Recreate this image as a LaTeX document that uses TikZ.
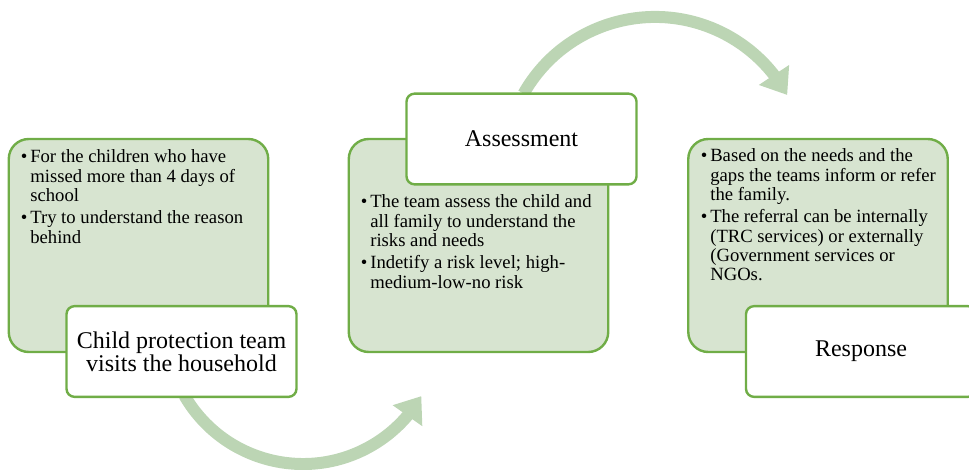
\documentclass[tikz,border=0pt]{standalone}
\usepackage{fontspec}
\setmainfont{Liberation Serif}
\usetikzlibrary{arrows.meta,bending}
\definecolor{gfill}{HTML}{D7E4D0}
\definecolor{gline}{HTML}{70AD47}
\definecolor{arrowgreen}{HTML}{BCD5B4}
\tikzset{
  greenbox/.style={draw=gline, fill=gfill, line width=1.8pt, rounded corners=15pt,
    minimum width=194.6pt, minimum height=159.75pt, inner sep=0pt},
  whitebox/.style={draw=gline, fill=white, line width=1.8pt, rounded corners=6pt,
    minimum width=172.5pt, minimum height=68pt, inner sep=0pt, align=center,
    font=\fontsize{18pt}{17.25pt}\selectfont},
  flow/.style={draw=arrowgreen, line width=9pt, -{Triangle[length=18pt,width=26pt,flex]}},
  bullets/.style={inner sep=0pt, anchor=base west, font=\fontsize{14pt}{14.5pt}\selectfont},
}
\newcommand\bl{\makebox[7pt][l]{\textbullet}}
\newcommand\ind{\hspace*{7pt}}
\begin{document}
\begin{tikzpicture}[x=0.75pt,y=-0.75pt]
\useasboundingbox (0,0) rectangle (969,470);
\clip (0,0) rectangle (969,470);
% connectors (drawn below the boxes)
\coordinate (a1s) at (184.4,395.5);
\coordinate (a2s) at (523.6,93.6);
\draw[flow] (a1s) arc[start angle=150, end angle=30.3, radius=137];
\draw[flow] (a2s) arc[start angle=209.5, end angle=331.1, radius=151];
% green boxes
\node[greenbox] (g1) at (138.5,245.5) {};
\node[greenbox] (g2) at (478.5,245.5) {};
\node[greenbox] (g3) at (818,245.5) {};
% bullet texts
\node[bullets] (b1) at (20.7,163) {\begin{tabular}[t]{@{}l@{}}
\bl For the children who have\\
\ind missed more than 4 days of\\
\ind school\\[2pt]
\bl Try to understand the reason\\
\ind behind
\end{tabular}};
\node[bullets] (b2) at (360.7,208) {\begin{tabular}[t]{@{}l@{}}
\bl The team assess the child and\\
\ind all family to understand the\\
\ind risks and needs\\[2pt]
\bl Indetify a risk level; high-\\
\ind medium-low-no risk
\end{tabular}};
\node[bullets] (b3) at (700.7,162) {\begin{tabular}[t]{@{}l@{}}
\bl Based on the needs and the\\
\ind gaps the teams inform or refer\\
\ind the family.\\[2pt]
\bl The referral can be internally\\
\ind (TRC services) or externally\\
\ind (Government services or\\
\ind NGOs.
\end{tabular}};
% white title boxes
\node[whitebox] (w1) at (181.5,351.5) {Child protection team\\visits the household};
\node[whitebox] (w2) at (521.5,139) {Assessment};
\node[whitebox] (w3) at (861,351.5) {Response};
\end{tikzpicture}
\end{document}
